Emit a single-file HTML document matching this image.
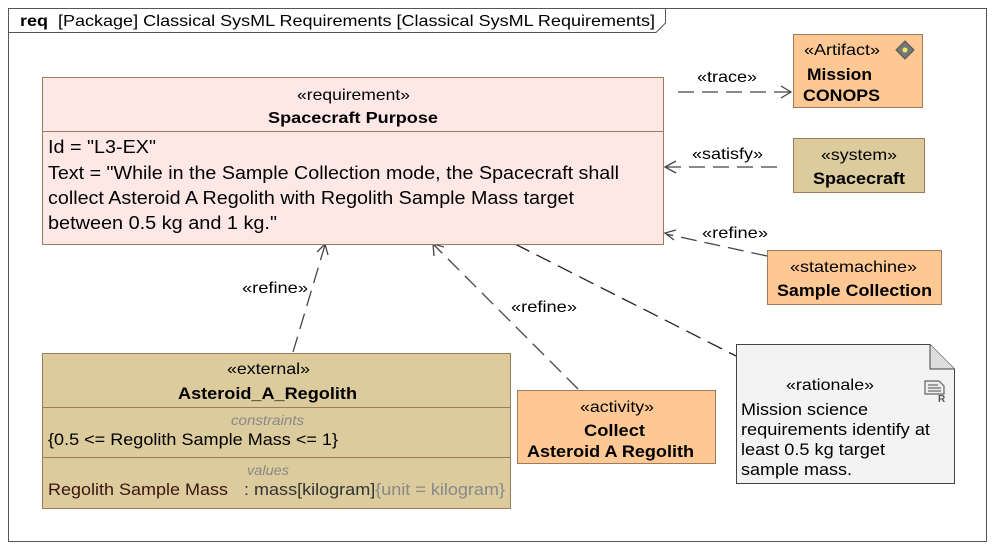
<!DOCTYPE html>
<html><head><meta charset="utf-8"><style>
html,body{margin:0;padding:0;background:#fff}
svg{display:block;font-family:"Liberation Sans",sans-serif}
</style></head><body>
<svg width="995" height="550" viewBox="0 0 995 550" xmlns="http://www.w3.org/2000/svg">
<rect x="8.5" y="8.5" width="978" height="533" fill="#fff" stroke="#555" stroke-width="1"/>
<path d="M8.5 32.5 H656 L665.5 23 V8.5" fill="none" stroke="#555"/>
<text x="20" y="26" font-size="16" font-weight="bold" textLength="28" lengthAdjust="spacingAndGlyphs">req</text>
<text x="58" y="26" font-size="16" textLength="597" lengthAdjust="spacingAndGlyphs">[Package] Classical SysML Requirements [Classical SysML Requirements]</text>

<g stroke="#444" stroke-width="1.3" fill="none">
<line x1="678" y1="92" x2="790" y2="92" stroke-dasharray="16,8"/>
<path d="M781 86 L791 92 L781 98"/>
<line x1="777" y1="167" x2="666" y2="167" stroke-dasharray="16,8"/>
<path d="M676 161 L665 167 L676 173"/>
<line x1="767" y1="256" x2="666" y2="234" stroke-dasharray="16,8"/>
<path d="M676 230 L665 233 L674 240"/>
<line x1="293" y1="352" x2="325" y2="245" stroke-dasharray="16,8"/>
<path d="M317 252 L325 244 L328 255"/>
<line x1="578" y1="389" x2="434" y2="245" stroke-dasharray="16,8"/>
<path d="M434 256 L433 244 L444 247"/>
<line x1="515" y1="244" x2="736" y2="356" stroke="#222" stroke-dasharray="16,8"/>
</g>
<g font-size="16" fill="#000" lengthAdjust="spacingAndGlyphs">
<text x="697" y="82" textLength="60" lengthAdjust="spacingAndGlyphs">«trace»</text>
<text x="692" y="159" textLength="71" lengthAdjust="spacingAndGlyphs">«satisfy»</text>
<text x="702" y="238" textLength="66" lengthAdjust="spacingAndGlyphs">«refine»</text>
<text x="242" y="293" textLength="66" lengthAdjust="spacingAndGlyphs">«refine»</text>
<text x="511" y="312" textLength="66" lengthAdjust="spacingAndGlyphs">«refine»</text>
</g>

<rect x="42.5" y="77.5" width="621" height="167" fill="#fde8e6" stroke="#9c7a5c"/>
<line x1="42.5" y1="131.5" x2="663.5" y2="131.5" stroke="#9c7a5c"/>
<text x="297" y="100" font-size="16" textLength="113" lengthAdjust="spacingAndGlyphs">«requirement»</text>
<text x="268" y="123" font-size="16" font-weight="bold" textLength="170" lengthAdjust="spacingAndGlyphs">Spacecraft Purpose</text>
<g font-size="18">
<text x="48" y="153" textLength="108" lengthAdjust="spacingAndGlyphs">Id = "L3-EX"</text>
<text x="48" y="179" textLength="571" lengthAdjust="spacingAndGlyphs">Text = "While in the Sample Collection mode, the Spacecraft shall</text>
<text x="48" y="204" textLength="526" lengthAdjust="spacingAndGlyphs">collect Asteroid A Regolith with Regolith Sample Mass target</text>
<text x="48" y="229" textLength="229" lengthAdjust="spacingAndGlyphs">between 0.5 kg and 1 kg."</text>
</g>

<rect x="793.5" y="34.5" width="129" height="73" fill="#fec894" stroke="#9c7a5c"/>
<text x="804" y="55" font-size="16" textLength="76" lengthAdjust="spacingAndGlyphs">«Artifact»</text>
<text x="807" y="80" font-size="16.5" font-weight="bold" textLength="65" lengthAdjust="spacingAndGlyphs">Mission</text>
<text x="803" y="101" font-size="16.5" font-weight="bold" textLength="77" lengthAdjust="spacingAndGlyphs">CONOPS</text>
<path d="M905 41 L914 50 L905 59 L896 50 Z" fill="#777" stroke="#555"/>
<circle cx="905" cy="50" r="2.5" fill="#ee6"/>

<rect x="793.5" y="138.5" width="131" height="54" fill="#dccb9c" stroke="#9c7a5c"/>
<text x="821" y="160" font-size="16" textLength="76" lengthAdjust="spacingAndGlyphs">«system»</text>
<text x="813" y="184" font-size="16.5" font-weight="bold" textLength="92" lengthAdjust="spacingAndGlyphs">Spacecraft</text>

<rect x="767.5" y="250.5" width="174" height="54" fill="#fec894" stroke="#9c7a5c"/>
<text x="790" y="272" font-size="16" textLength="127" lengthAdjust="spacingAndGlyphs">«statemachine»</text>
<text x="777" y="296" font-size="16.5" font-weight="bold" textLength="155" lengthAdjust="spacingAndGlyphs">Sample Collection</text>

<rect x="42.5" y="353.5" width="468" height="155" fill="#dccb9c" stroke="#9c7a5c"/>
<line x1="42.5" y1="407.5" x2="510.5" y2="407.5" stroke="#9c7a5c"/>
<line x1="42.5" y1="457.5" x2="510.5" y2="457.5" stroke="#9c7a5c"/>
<text x="227" y="374" font-size="16" textLength="83" lengthAdjust="spacingAndGlyphs">«external»</text>
<text x="178" y="399" font-size="16.5" font-weight="bold" textLength="179" lengthAdjust="spacingAndGlyphs">Asteroid_A_Regolith</text>
<text x="231" y="425" font-size="13.5" font-style="italic" fill="#888" textLength="73" lengthAdjust="spacingAndGlyphs">constraints</text>
<text x="48" y="445" font-size="16.5" textLength="290" lengthAdjust="spacingAndGlyphs">{0.5 &lt;= Regolith Sample Mass &lt;= 1}</text>
<text x="247" y="475" font-size="13.5" font-style="italic" fill="#888" textLength="42" lengthAdjust="spacingAndGlyphs">values</text>
<text x="48" y="495" font-size="16.5" fill="#3a1410" textLength="180" lengthAdjust="spacingAndGlyphs">Regolith Sample Mass</text>
<text x="244" y="495" font-size="16.5" fill="#333" textLength="261" lengthAdjust="spacingAndGlyphs">: mass[kilogram]<tspan fill="#888">{unit = kilogram}</tspan></text>

<rect x="517.5" y="390.5" width="198" height="73" fill="#fec894" stroke="#9c7a5c"/>
<text x="580" y="412" font-size="16" textLength="74" lengthAdjust="spacingAndGlyphs">«activity»</text>
<text x="584" y="436" font-size="16.5" font-weight="bold" textLength="61" lengthAdjust="spacingAndGlyphs">Collect</text>
<text x="527" y="457" font-size="16.5" font-weight="bold" textLength="167" lengthAdjust="spacingAndGlyphs">Asteroid A Regolith</text>

<path d="M736.5 344.5 H930 L954.5 369 V483.5 H736.5 Z" fill="#f3f3f3" stroke="#444"/>
<path d="M930 344.5 V369 H954.5" fill="#ddd" stroke="#444"/>
<text x="786" y="390" font-size="16" textLength="88" lengthAdjust="spacingAndGlyphs">«rationale»</text>
<g font-size="16.5">
<text x="741" y="415" textLength="127" lengthAdjust="spacingAndGlyphs">Mission science</text>
<text x="741" y="435" textLength="189" lengthAdjust="spacingAndGlyphs">requirements identify at</text>
<text x="741" y="455" textLength="144" lengthAdjust="spacingAndGlyphs">least 0.5 kg target</text>
<text x="741" y="475" textLength="111" lengthAdjust="spacingAndGlyphs">sample mass.</text>
</g>
<g stroke="#666" stroke-width="1.2" fill="none">
<path d="M925 381 H939 L944 386 V394 H925 Z" fill="#eee"/>
<line x1="928" y1="385" x2="938" y2="385"/><line x1="928" y1="388" x2="941" y2="388"/><line x1="928" y1="391" x2="941" y2="391"/>
</g>
<text x="938" y="402" font-size="10" font-weight="bold" fill="#555">R</text>
</svg>
</body></html>
